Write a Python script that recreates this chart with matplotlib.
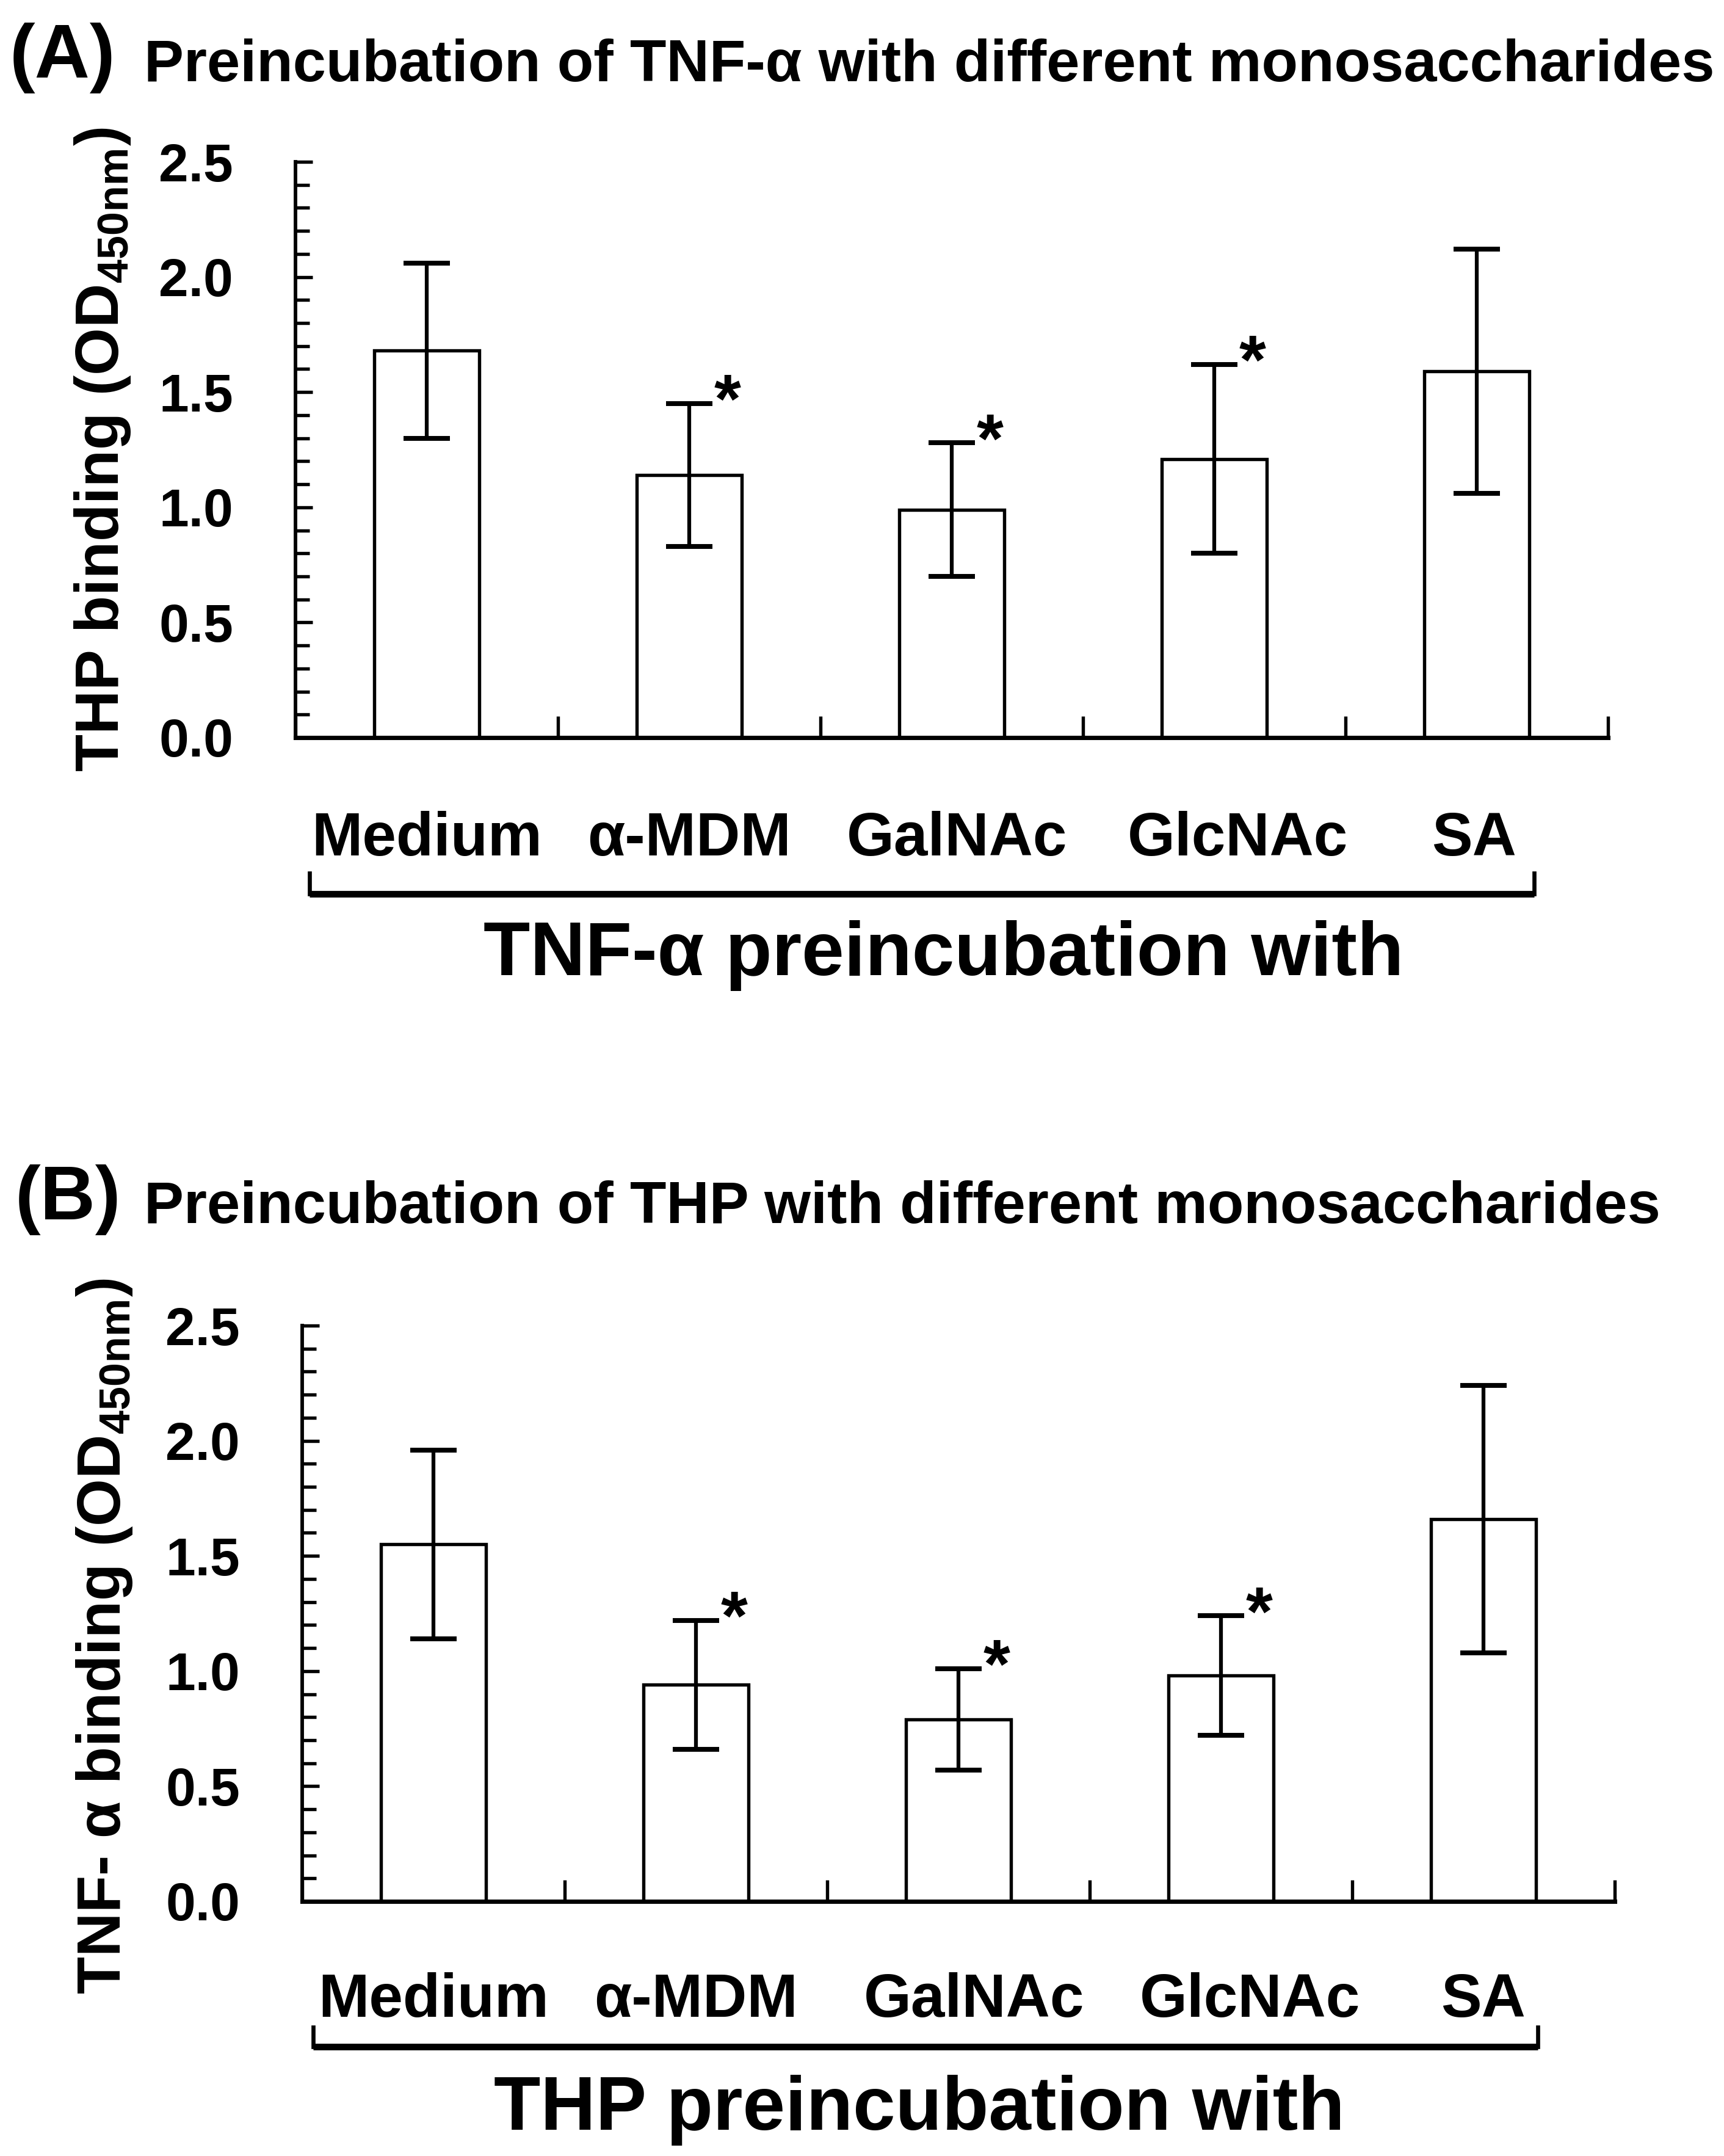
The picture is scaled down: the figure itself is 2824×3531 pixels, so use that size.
import numpy as np
import matplotlib
matplotlib.use("Agg")
import matplotlib.pyplot as plt
from matplotlib import rcParams
from matplotlib.ticker import MultipleLocator, FormatStrFormatter, NullFormatter
from matplotlib.transforms import blended_transform_factory

rcParams['font.family'] = ['Liberation Sans', 'DejaVu Sans']
rcParams['font.weight'] = 'bold'
rcParams['mathtext.fontset'] = 'custom'
rcParams['mathtext.rm'] = 'Liberation Sans'

categories = ["Medium", "α-MDM", "GalNAc", "GlcNAc", "SA"]

# (A) THP binding after TNF-α preincubation
a_mean = [1.68, 1.14, 0.99, 1.21, 1.59]
a_err = [0.38, 0.31, 0.29, 0.41, 0.53]
a_sig = [False, True, True, True, False]

# (B) TNF-α binding after THP preincubation
b_mean = [1.55, 0.94, 0.79, 0.98, 1.66]
b_err = [0.41, 0.28, 0.22, 0.26, 0.58]
b_sig = [False, True, True, True, False]

W, H = 2824, 3531
fig = plt.figure(figsize=(W / 300, H / 300), dpi=300)


def draw_panel(rect, mean, err, sig, ylabel, ylab_pos, xlabel, xlab_pos,
               lab_y, lab_shift, brk_x, brk_y):
    ax = fig.add_axes(rect)
    x = np.arange(len(categories))
    ax.bar(x, mean, width=0.4, color='white', edgecolor='black', linewidth=1.3, zorder=2)
    ax.errorbar(x, mean, yerr=err, fmt='none', ecolor='black', elinewidth=1.5,
                capsize=9.2, capthick=1.9, zorder=3)
    for xi, m, e, s in zip(x, mean, err, sig):
        if s:
            ax.annotate('*', xy=(xi, m + e), xytext=(15, -7.5), textcoords='offset points',
                        ha='center', va='baseline', fontsize=27, fontweight='bold')

    ax.set_xlim(-0.5, len(categories) - 0.5)
    ax.set_ylim(0, 2.5)
    for side in ['top', 'right']:
        ax.spines[side].set_visible(False)
    ax.spines['left'].set_linewidth(1.4)
    ax.spines['bottom'].set_linewidth(1.7)

    ax.yaxis.set_major_locator(MultipleLocator(0.5))
    ax.yaxis.set_minor_locator(MultipleLocator(0.1))
    ax.yaxis.set_major_formatter(FormatStrFormatter('%.1f'))
    ax.tick_params(axis='y', which='major', direction='in', length=6.7, width=1.3,
                   pad=24.5, labelsize=21)
    ax.tick_params(axis='y', which='minor', direction='in', length=5.5, width=1.3)

    # ticks only at the category boundaries
    ax.set_xticks(np.arange(-0.5, len(categories)))
    ax.xaxis.set_major_formatter(NullFormatter())
    ax.tick_params(axis='x', which='major', direction='in', length=8.4, width=1.3)

    trans = blended_transform_factory(ax.transData, ax.transAxes)
    for xi, name, dx in zip(x, categories, lab_shift):
        ax.text(xi + dx, lab_y, name, transform=trans, ha='center', va='top',
                fontsize=24, fontweight='bold')

    ax.set_ylabel(ylabel, fontsize=24, fontweight='bold')
    ax.yaxis.set_label_coords(*ylab_pos)

    l, r = brk_x
    y0, y1 = brk_y
    ax.plot([l, r], [y0, y0], transform=trans, clip_on=False, color='black',
            lw=2.6, solid_capstyle='butt')
    ax.plot([l, l], [y0, y1], transform=trans, clip_on=False, color='black', lw=1.6)
    ax.plot([r, r], [y0, y1], transform=trans, clip_on=False, color='black', lw=1.6)

    ax.text(xlab_pos[0], xlab_pos[1], xlabel, transform=trans, ha='center',
            va='baseline', fontsize=30, fontweight='bold')
    return ax


draw_panel([484 / W, 1 - 1208 / H, 2150 / W, 943 / H], a_mean, a_err, a_sig,
           'THP binding (OD$_{\\rm 450nm}$)', (-0.124, 0.5),
           'TNF-α preincubation with', (1.97, -0.4125),
           -0.1273, [0.0, 0.0, 0.02, 0.09, -0.01],
           (-0.447, 4.219), (-0.2715, -0.2354))

draw_panel([495 / W, 1 - 3114 / H, 2150 / W, 943 / H], b_mean, b_err, b_sig,
           'TNF- α binding (OD$_{\\rm 450nm}$)', (-0.128, 0.46),
           'THP preincubation with', (1.85, -0.3966),
           -0.123, [0.0, 0.0, 0.06, 0.11, 0.0],
           (-0.458, 4.207), (-0.2524, -0.2185))

fig.text(16 / W, 1 - 127 / H, '(A)', fontsize=30, fontweight='bold', va='baseline')
fig.text(236 / W, 1 - 133 / H, 'Preincubation of TNF-α with different monosaccharides',
         fontsize=23.4, fontweight='bold', va='baseline')
fig.text(25 / W, 1 - 1997 / H, '(B)', fontsize=30, fontweight='bold', va='baseline')
fig.text(236 / W, 1 - 2003 / H, 'Preincubation of THP with different monosaccharides',
         fontsize=23.4, fontweight='bold', va='baseline')

fig.savefig('out.png', dpi=300)
